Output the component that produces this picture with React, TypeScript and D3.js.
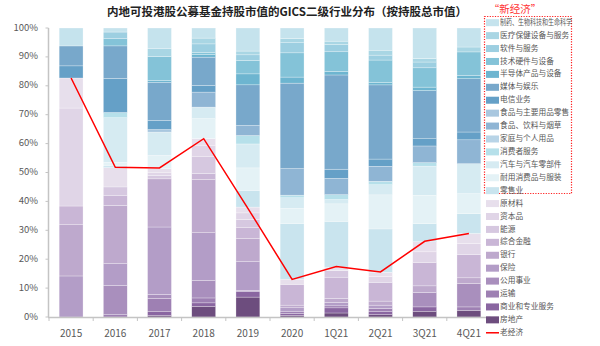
import React from "react";
import * as d3 from "d3";

const categories = ["2015", "2016", "2017", "2018", "2019", "2020", "1Q21", "2Q21", "3Q21", "4Q21"];

// new economy (blue) series
const pharma = [6.2, 1.4, 7.2, 3.5, 8.0, 3.7, 4.6, 7.7, 10.6, 6.6];
const healthcare = [0, 0, 2.7, 2.0, 1.3, 1.4, 1.2, 1.7, 1.2, 1.7];
const software = [0, 2.3, 0, 2.9, 2.0, 3.5, 2.5, 1.7, 2.0, 0];
const techHardware = [0, 2.5, 8.3, 0.8, 4.6, 8.4, 6.9, 7.8, 6.7, 8.1];
const semis = [0, 0, 0.6, 0.9, 3.8, 2.1, 1.2, 0.8, 1.2, 1.2];
const media = [6.9, 11.3, 13.3, 9.8, 14.1, 29.6, 32.9, 25.7, 16.7, 18.5];
const telecom = [4.2, 11.8, 3.1, 2.3, 0, 0, 3.2, 2.5, 2.5, 2.7];
const foodRetail = [0, 0, 0.9, 0, 0, 0, 0, 0, 0, 0];
const foodBev = [0, 0, 0, 5.2, 3.5, 9.2, 5.7, 5.2, 5.8, 8.3];
const household = [0, 0, 0, 0, 0, 0, 0, 0, 0, 0];
const consumerSvc = [0, 1.8, 0, 0, 2.9, 0.9, 1.7, 1.2, 1.2, 0];
const autos = [0, 15.5, 8.1, 4.0, 8.3, 3.7, 1.5, 3.5, 10.1, 10.4];
const durables = [0, 1.2, 4.6, 6.9, 7.8, 5.2, 6.1, 11.8, 9.8, 6.9];
const retailing = [0, 0.6, 0, 0, 5.8, 19.3, 16.0, 15.0, 6.3, 6.9];
// old economy (purple) series
const materials = [10.4, 6.7, 1.4, 2.5, 2.0, 1.8, 1.2, 1.5, 3.5, 3.5];
const capitalGoods = [33.9, 0, 0.9, 3.8, 2.3, 0, 0, 2.0, 3.7, 3.8];
const energy = [0, 2.9, 1.2, 5.8, 2.7, 0, 2.3, 0, 0, 0];
const diversifiedFin = [6.3, 3.5, 0, 2.0, 3.8, 7.2, 7.4, 6.5, 8.1, 8.1];
const banks = [17.9, 20.2, 16.7, 18.5, 8.1, 0.9, 1.4, 1.4, 2.3, 2.0];
const insurance = [14.2, 7.5, 23.4, 16.5, 10.0, 1.2, 1.2, 1.2, 0, 0];
const utilities = [0, 10.2, 1.4, 6.1, 0.3, 0, 0, 0, 5.0, 8.1];
const transport = [0, 0.8, 4.4, 1.7, 0, 0.8, 0.7, 0.9, 0, 1.2];
const commercial = [0, 0, 1.4, 1.2, 2.0, 0.6, 1.8, 1.2, 1.5, 0];
const realEstate = [0, 0, 0.6, 3.7, 6.9, 0.6, 1.4, 0.8, 2.0, 2.3];

// old economy line
const oldEconomy = [82.7, 51.8, 51.6, 61.7, 37.6, 13.0, 17.5, 15.6, 26.2, 28.9];

const yTicks = [0, 10, 20, 30, 40, 50, 60, 70, 80, 90, 100];

// legend order: top to bottom (= stack top to bottom)
const seriesNames = [
  "制药、生物科技和生命科学", "医疗保健设备与服务", "软件与服务", "技术硬件与设备", "半导体产品与设备",
  "媒体与娱乐", "电信业务", "食品与主要用品零售", "食品、饮料与烟草", "家庭与个人用品",
  "消费者服务", "汽车与汽车零部件", "耐用消费品与服装", "零售业",
  "原材料", "资本品", "能源", "综合金融", "银行", "保险", "公用事业", "运输", "商业和专业服务", "房地产",
];
const seriesValues = [
  pharma, healthcare, software, techHardware, semis, media, telecom, foodRetail, foodBev, household,
  consumerSvc, autos, durables, retailing,
  materials, capitalGoods, energy, diversifiedFin, banks, insurance, utilities, transport, commercial, realEstate,
];
const seriesColors = [
  "#c5e3ed", "#a9d6e4", "#9dcfe1", "#84c3d8", "#6db5d0", "#78a8cb", "#65a0c7", "#a9c7df", "#8fb5d4", "#b8d4e7",
  "#b6e0ea", "#d6ebf2", "#e4f2f6", "#c9e4ee",
  "#e7dfec", "#e0d5e7", "#d6c8e0", "#c9b6d6", "#bea9cd", "#b39dc7", "#a98fbd", "#9e80b3", "#8a66a1", "#6d4d7e",
];
const lineName = "老经济";
const boxLabel = "“新经济”";
const title = "内地可投港股公募基金持股市值的GICS二级行业分布（按持股总市值）";

const FONT = "'Noto Sans CJK SC', 'Noto Sans', sans-serif";

export default function App() {
  const W = 600, H = 346;
  const x = d3.scaleBand<string>().domain(categories).range([49, 491]).paddingInner(0.46).paddingOuter(0.23);
  const y = d3.scaleLinear().domain([0, 100]).range([317, 28]);
  const yFrac = d3.scaleLinear().domain([0, 1]).range([317, 28]);

  const rows = categories.map((c, i) => {
    const r: any = { cat: c };
    seriesNames.forEach((n, k) => (r[n] = seriesValues[k][i]));
    return r;
  });
  const bottomUp = [...seriesNames].reverse();
  const stack = d3.stack<any>().keys(bottomUp).offset(d3.stackOffsetExpand);
  const layers = stack(rows);
  const colorOf = d3.scaleOrdinal<string, string>().domain(seriesNames).range(seriesColors);

  const line = d3.line<number>()
    .x((_, i) => (x(categories[i]) as number) + x.bandwidth() / 2)
    .y((v) => y(v));

  const step = x.step();
  const x0 = 49;
  const boundaries = d3.range(categories.length + 1).map((i) => x0 + i * step);

  const legendY = (i: number) => 22.7 + i * 12.92;

  return (
    <svg width={W} height={H} style={{ position: "absolute", left: 0, top: 0, background: "#fff" }} fontFamily={FONT}>
      <text x={287} y={13} textAnchor="middle" dominantBaseline="middle" fontSize={11.5} fontWeight="bold" fill="#222">{title}</text>

      {/* bars */}
      {layers.map((layer) => (
        <g key={layer.key} fill={colorOf(layer.key)}>
          {layer.map((d, i) => (
            d[1] - d[0] > 0 ? (
              <rect key={i} x={x(categories[i])} width={x.bandwidth()} y={yFrac(d[1])} height={yFrac(d[0]) - yFrac(d[1])}
                stroke="#ffffff" strokeWidth={0.5} strokeOpacity={0.55} />
            ) : null
          ))}
        </g>
      ))}

      {/* y axis */}
      <line x1={48.5} x2={48.5} y1={28} y2={317} stroke="#c4c4c4" strokeWidth={1.5} />
      {yTicks.map((t) => (
        <g key={t}>
          <line x1={45.5} x2={48.5} y1={y(t)} y2={y(t)} stroke="#c4c4c4" strokeWidth={1} />
          <text x={38} y={y(t)} textAnchor="end" dominantBaseline="middle" fontSize={9.5} fill="#595959">{t}%</text>
        </g>
      ))}

      {/* x axis */}
      <line x1={48} x2={491} y1={317.5} y2={317.5} stroke="#c4c4c4" strokeWidth={1.5} />
      {boundaries.map((b, i) => (
        <line key={i} x1={b} x2={b} y1={317.5} y2={321} stroke="#c4c4c4" strokeWidth={1} />
      ))}
      {categories.map((c) => (
        <text key={c} x={(x(c) as number) + x.bandwidth() / 2} y={337} textAnchor="middle" fontSize={10} fill="#595959">{c}</text>
      ))}

      {/* old economy line */}
      <path d={line(oldEconomy) || ""} fill="none" stroke="#ff0000" strokeWidth={1.5} />

      {/* new economy box */}
      <text x={515} y={10.5} textAnchor="middle" dominantBaseline="middle" fontSize={10.5} fill="#ff3333">{boxLabel}</text>
      <rect x={484.5} y={16.5} width={87} height={177} fill="none" stroke="#ff2020" strokeWidth={1.2} strokeDasharray="1.2,1.4" />

      {/* legend */}
      {seriesNames.map((n, i) => (
        <g key={n}>
          <rect x={486} y={legendY(i) - 3.5} width={13} height={7} fill={colorOf(n)} />
          <text x={500} y={legendY(i)} dominantBaseline="middle" fontSize={7.7} fill="#555"
            {...(n.length > 10 ? { textLength: 72, lengthAdjust: "spacingAndGlyphs" } : {})}>{n}</text>
        </g>
      ))}
      <line x1={486} x2={499} y1={legendY(24)} y2={legendY(24)} stroke="#ff0000" strokeWidth={1.5} />
      <text x={500} y={legendY(24)} dominantBaseline="middle" fontSize={7.7} fill="#555">{lineName}</text>
    </svg>
  );
}
